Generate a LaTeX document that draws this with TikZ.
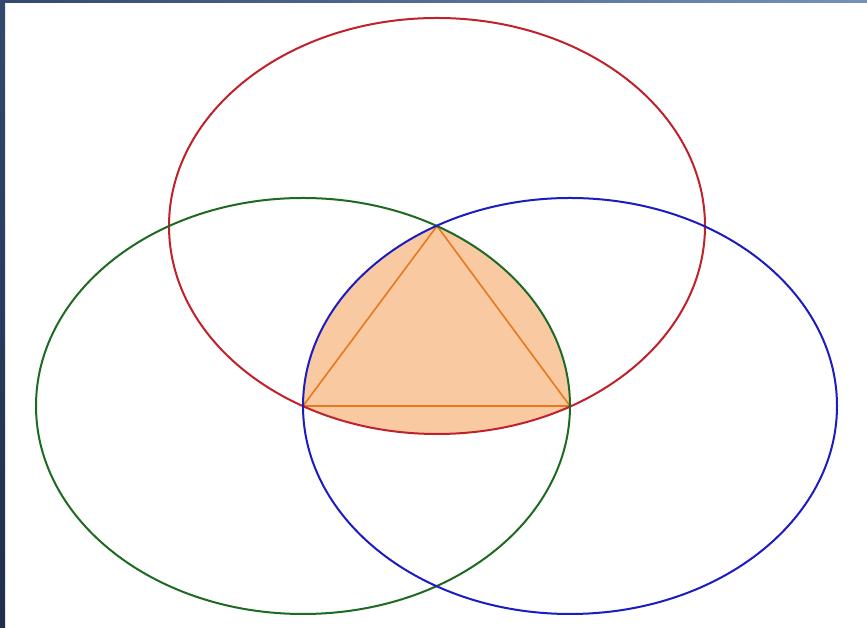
\documentclass[tikz,border=0pt]{standalone}
\usetikzlibrary{calc}
\definecolor{redE}{HTML}{C0212B}
\definecolor{greenE}{HTML}{1F6A22}
\definecolor{blueE}{HTML}{1C1CC0}
\definecolor{orangeL}{HTML}{E8791C}
\definecolor{orangeF}{HTML}{F9C9A2}
\definecolor{navyA}{HTML}{33486D}
\definecolor{navyB}{HTML}{1F2F4C}
\definecolor{navyC}{HTML}{7691B8}
\tikzset{ell/.style={line width=2pt}}
\begin{document}
\begin{tikzpicture}[x=1pt,y=1pt]
\useasboundingbox (0,0) rectangle (867,628);
\fill[white] (0,0) rectangle (867,628);
\coordinate (A) at (437,402);
\coordinate (B) at (303,222);
\coordinate (C) at (570,222);
% filled region
\begin{scope}
\clip (A) ellipse [x radius=268pt, y radius=208pt];
\clip (B) ellipse [x radius=267pt, y radius=208pt];
\fill[orangeF] (C) ellipse [x radius=267pt, y radius=208pt];
\end{scope}
\draw[orangeL, line width=1.6pt, line join=round] (A) -- (B) -- (C) -- cycle;
\draw[ell, redE] (A) ellipse [x radius=268pt, y radius=208pt];
\draw[ell, greenE] (B) ellipse [x radius=267pt, y radius=208pt];
\draw[ell, blueE] (C) ellipse [x radius=267pt, y radius=208pt];
% frame bars
\shade[top color=navyA, bottom color=navyB] (0,0) rectangle (5,628);
\shade[left color=navyA, right color=navyC] (0,625) rectangle (867,628);
\end{tikzpicture}
\end{document}
